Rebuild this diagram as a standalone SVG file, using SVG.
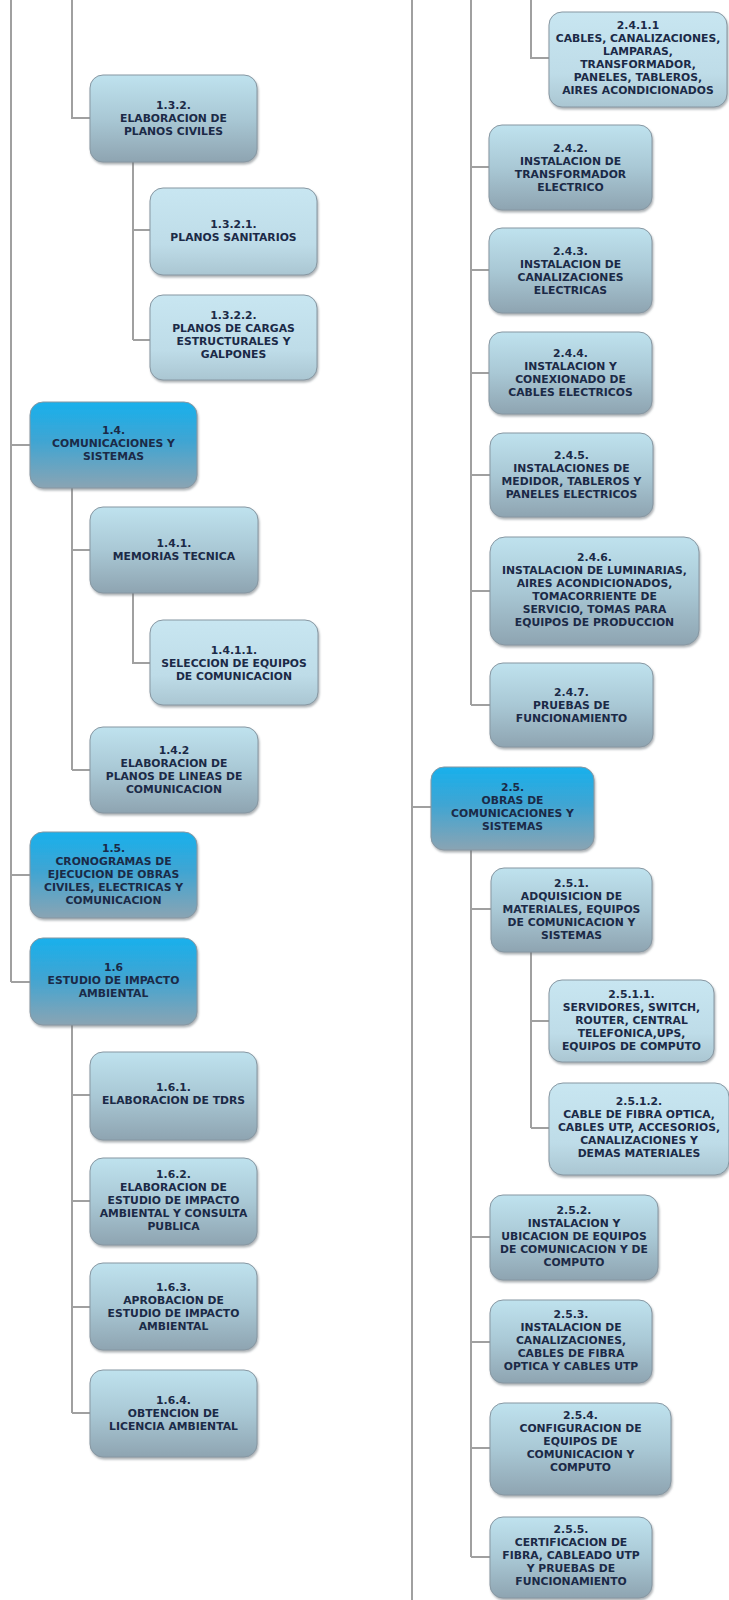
<svg xmlns="http://www.w3.org/2000/svg" width="729" height="1600" viewBox="0 0 729 1600">
<defs>
<linearGradient id="gL1" x1="0" y1="0" x2="0" y2="1">
<stop offset="0" stop-color="#18b0ec"/><stop offset="0.45" stop-color="#3fa5d3"/><stop offset="1" stop-color="#8aa4b3"/>
</linearGradient>
<linearGradient id="gL2" x1="0" y1="0" x2="0" y2="1">
<stop offset="0" stop-color="#bfe2ee"/><stop offset="0.5" stop-color="#a9c8d5"/><stop offset="1" stop-color="#8ea4b1"/>
</linearGradient>
<linearGradient id="gL3" x1="0" y1="0" x2="0" y2="1">
<stop offset="0" stop-color="#c8e6f1"/><stop offset="0.65" stop-color="#bedce8"/><stop offset="1" stop-color="#aac6d2"/>
</linearGradient>
<filter id="sh" x="-10%" y="-10%" width="125%" height="130%">
<feDropShadow dx="1" dy="2" stdDeviation="1.2" flood-color="#6a737a" flood-opacity="0.55"/>
</filter>
</defs>
<style>
.c{stroke:#a0a0a0;stroke-width:2;fill:none}
.n rect{stroke:#8797a2;stroke-width:1;filter:url(#sh)}
.l1 rect{fill:url(#gL1)}
.l2 rect{fill:url(#gL2)}
.l3 rect{fill:url(#gL3)}
.n text{font-family:"DejaVu Sans","Liberation Sans",sans-serif;font-size:10.8px;font-weight:bold;fill:#1b2a47;text-anchor:middle}
</style>
<rect width="729" height="1600" fill="#ffffff"/>
<g id="connectors">
<path class="c" d="M11 0V982M11 445H30M11 875H30M11 982H30"/>
<path class="c" d="M72 0V118H90"/>
<path class="c" d="M133 162V340M133 230H150M133 340H150"/>
<path class="c" d="M72 488V770M72 550H90M72 770H90"/>
<path class="c" d="M133 593V663H150"/>
<path class="c" d="M72 1025V1413M72 1095H90M72 1201H90M72 1307H90M72 1413H90"/>
<path class="c" d="M412 0V1600M412 807H431"/>
<path class="c" d="M531 0V58H549"/>
<path class="c" d="M471 0V705M471 167H489M471 270H489M471 373H489M471 475H490M471 591H490M471 705H490"/>
<path class="c" d="M471 850V1557M471 909H491M471 1237H490M471 1342H490M471 1448H490M471 1557H490"/>
<path class="c" d="M531 952V1128M531 1021H549M531 1128H549"/>
</g>

<g id="n132" class="n l2"><rect x="90" y="75" width="167" height="87" rx="13"/>
<text x="173.5" y="109"><tspan x="173.5">1.3.2.</tspan><tspan x="173.5" dy="13">ELABORACION DE</tspan><tspan x="173.5" dy="13">PLANOS CIVILES</tspan></text></g>

<g id="n1321" class="n l3"><rect x="150" y="188" width="167" height="87" rx="13"/>
<text x="233.5" y="228"><tspan x="233.5">1.3.2.1.</tspan><tspan x="233.5" dy="13">PLANOS SANITARIOS</tspan></text></g>

<g id="n1322" class="n l3"><rect x="150" y="295" width="167" height="85" rx="13"/>
<text x="233.5" y="319"><tspan x="233.5">1.3.2.2.</tspan><tspan x="233.5" dy="13">PLANOS DE CARGAS</tspan><tspan x="233.5" dy="13">ESTRUCTURALES Y</tspan><tspan x="233.5" dy="13">GALPONES</tspan></text></g>

<g id="n14" class="n l1"><rect x="30" y="402" width="167" height="86" rx="13"/>
<text x="113.5" y="434"><tspan x="113.5">1.4.</tspan><tspan x="113.5" dy="13">COMUNICACIONES Y</tspan><tspan x="113.5" dy="13">SISTEMAS</tspan></text></g>

<g id="n141" class="n l2"><rect x="90" y="507" width="168" height="86" rx="13"/>
<text x="174" y="547"><tspan x="174">1.4.1.</tspan><tspan x="174" dy="13">MEMORIAS TECNICA</tspan></text></g>

<g id="n1411" class="n l3"><rect x="150" y="620" width="168" height="85" rx="13"/>
<text x="234" y="654"><tspan x="234">1.4.1.1.</tspan><tspan x="234" dy="13">SELECCION DE EQUIPOS</tspan><tspan x="234" dy="13">DE COMUNICACION</tspan></text></g>

<g id="n142" class="n l2"><rect x="90" y="727" width="168" height="86" rx="13"/>
<text x="174" y="754"><tspan x="174">1.4.2</tspan><tspan x="174" dy="13">ELABORACION DE</tspan><tspan x="174" dy="13">PLANOS DE LINEAS DE</tspan><tspan x="174" dy="13">COMUNICACION</tspan></text></g>

<g id="n15" class="n l1"><rect x="30" y="832" width="167" height="86" rx="13"/>
<text x="113.5" y="852"><tspan x="113.5">1.5.</tspan><tspan x="113.5" dy="13">CRONOGRAMAS DE</tspan><tspan x="113.5" dy="13">EJECUCION DE OBRAS</tspan><tspan x="113.5" dy="13">CIVILES, ELECTRICAS Y</tspan><tspan x="113.5" dy="13">COMUNICACION</tspan></text></g>

<g id="n16" class="n l1"><rect x="30" y="938" width="167" height="87" rx="13"/>
<text x="113.5" y="971"><tspan x="113.5">1.6</tspan><tspan x="113.5" dy="13">ESTUDIO DE IMPACTO</tspan><tspan x="113.5" dy="13">AMBIENTAL</tspan></text></g>

<g id="n161" class="n l2"><rect x="90" y="1052" width="167" height="88" rx="13"/>
<text x="173.5" y="1091"><tspan x="173.5">1.6.1.</tspan><tspan x="173.5" dy="13">ELABORACION DE TDRS</tspan></text></g>

<g id="n162" class="n l2"><rect x="90" y="1158" width="167" height="87" rx="13"/>
<text x="173.5" y="1178"><tspan x="173.5">1.6.2.</tspan><tspan x="173.5" dy="13">ELABORACION DE</tspan><tspan x="173.5" dy="13">ESTUDIO DE IMPACTO</tspan><tspan x="173.5" dy="13">AMBIENTAL Y CONSULTA</tspan><tspan x="173.5" dy="13">PUBLICA</tspan></text></g>

<g id="n163" class="n l2"><rect x="90" y="1263" width="167" height="87" rx="13"/>
<text x="173.5" y="1291"><tspan x="173.5">1.6.3.</tspan><tspan x="173.5" dy="13">APROBACION DE</tspan><tspan x="173.5" dy="13">ESTUDIO DE IMPACTO</tspan><tspan x="173.5" dy="13">AMBIENTAL</tspan></text></g>

<g id="n164" class="n l2"><rect x="90" y="1370" width="167" height="87" rx="13"/>
<text x="173.5" y="1404"><tspan x="173.5">1.6.4.</tspan><tspan x="173.5" dy="13">OBTENCION DE</tspan><tspan x="173.5" dy="13">LICENCIA AMBIENTAL</tspan></text></g>

<g id="n2411" class="n l3"><rect x="549" y="12" width="178" height="95" rx="13"/>
<text x="638" y="29"><tspan x="638">2.4.1.1</tspan><tspan x="638" dy="13">CABLES, CANALIZACIONES,</tspan><tspan x="638" dy="13">LAMPARAS,</tspan><tspan x="638" dy="13">TRANSFORMADOR,</tspan><tspan x="638" dy="13">PANELES, TABLEROS,</tspan><tspan x="638" dy="13">AIRES ACONDICIONADOS</tspan></text></g>

<g id="n242" class="n l2"><rect x="489" y="125" width="163" height="85" rx="13"/>
<text x="570.5" y="152"><tspan x="570.5">2.4.2.</tspan><tspan x="570.5" dy="13">INSTALACION DE</tspan><tspan x="570.5" dy="13">TRANSFORMADOR</tspan><tspan x="570.5" dy="13">ELECTRICO</tspan></text></g>

<g id="n243" class="n l2"><rect x="489" y="228" width="163" height="85" rx="13"/>
<text x="570.5" y="255"><tspan x="570.5">2.4.3.</tspan><tspan x="570.5" dy="13">INSTALACION DE</tspan><tspan x="570.5" dy="13">CANALIZACIONES</tspan><tspan x="570.5" dy="13">ELECTRICAS</tspan></text></g>

<g id="n244" class="n l2"><rect x="489" y="332" width="163" height="82" rx="13"/>
<text x="570.5" y="357"><tspan x="570.5">2.4.4.</tspan><tspan x="570.5" dy="13">INSTALACION Y</tspan><tspan x="570.5" dy="13">CONEXIONADO DE</tspan><tspan x="570.5" dy="13">CABLES ELECTRICOS</tspan></text></g>

<g id="n245" class="n l2"><rect x="490" y="433" width="163" height="84" rx="13"/>
<text x="571.5" y="459"><tspan x="571.5">2.4.5.</tspan><tspan x="571.5" dy="13">INSTALACIONES DE</tspan><tspan x="571.5" dy="13">MEDIDOR, TABLEROS Y</tspan><tspan x="571.5" dy="13">PANELES ELECTRICOS</tspan></text></g>

<g id="n246" class="n l2"><rect x="490" y="537" width="209" height="108" rx="15"/>
<text x="594.5" y="561"><tspan x="594.5">2.4.6.</tspan><tspan x="594.5" dy="13">INSTALACION DE LUMINARIAS,</tspan><tspan x="594.5" dy="13">AIRES ACONDICIONADOS,</tspan><tspan x="594.5" dy="13">TOMACORRIENTE DE</tspan><tspan x="594.5" dy="13">SERVICIO, TOMAS PARA</tspan><tspan x="594.5" dy="13">EQUIPOS DE PRODUCCION</tspan></text></g>

<g id="n247" class="n l2"><rect x="490" y="663" width="163" height="84" rx="13"/>
<text x="571.5" y="696"><tspan x="571.5">2.4.7.</tspan><tspan x="571.5" dy="13">PRUEBAS DE</tspan><tspan x="571.5" dy="13">FUNCIONAMIENTO</tspan></text></g>

<g id="n25" class="n l1"><rect x="431" y="767" width="163" height="83" rx="13"/>
<text x="512.5" y="791"><tspan x="512.5">2.5.</tspan><tspan x="512.5" dy="13">OBRAS DE</tspan><tspan x="512.5" dy="13">COMUNICACIONES Y</tspan><tspan x="512.5" dy="13">SISTEMAS</tspan></text></g>

<g id="n251" class="n l2"><rect x="491" y="868" width="161" height="84" rx="13"/>
<text x="571.5" y="887"><tspan x="571.5">2.5.1.</tspan><tspan x="571.5" dy="13">ADQUISICION DE</tspan><tspan x="571.5" dy="13">MATERIALES, EQUIPOS</tspan><tspan x="571.5" dy="13">DE COMUNICACION Y</tspan><tspan x="571.5" dy="13">SISTEMAS</tspan></text></g>

<g id="n2511" class="n l3"><rect x="549" y="980" width="165" height="82" rx="13"/>
<text x="631.5" y="998"><tspan x="631.5">2.5.1.1.</tspan><tspan x="631.5" dy="13">SERVIDORES, SWITCH,</tspan><tspan x="631.5" dy="13">ROUTER, CENTRAL</tspan><tspan x="631.5" dy="13">TELEFONICA,UPS,</tspan><tspan x="631.5" dy="13">EQUIPOS DE COMPUTO</tspan></text></g>

<g id="n2512" class="n l3"><rect x="549" y="1083" width="180" height="92" rx="14"/>
<text x="639" y="1105"><tspan x="639">2.5.1.2.</tspan><tspan x="639" dy="13">CABLE DE FIBRA OPTICA,</tspan><tspan x="639" dy="13">CABLES UTP, ACCESORIOS,</tspan><tspan x="639" dy="13">CANALIZACIONES Y</tspan><tspan x="639" dy="13">DEMAS MATERIALES</tspan></text></g>

<g id="n252" class="n l2"><rect x="490" y="1195" width="168" height="85" rx="13"/>
<text x="574" y="1214"><tspan x="574">2.5.2.</tspan><tspan x="574" dy="13">INSTALACION Y</tspan><tspan x="574" dy="13">UBICACION DE EQUIPOS</tspan><tspan x="574" dy="13">DE COMUNICACION Y DE</tspan><tspan x="574" dy="13">COMPUTO</tspan></text></g>

<g id="n253" class="n l2"><rect x="490" y="1300" width="162" height="83" rx="13"/>
<text x="571" y="1318"><tspan x="571">2.5.3.</tspan><tspan x="571" dy="13">INSTALACION DE</tspan><tspan x="571" dy="13">CANALIZACIONES,</tspan><tspan x="571" dy="13">CABLES DE FIBRA</tspan><tspan x="571" dy="13">OPTICA Y CABLES UTP</tspan></text></g>

<g id="n254" class="n l2"><rect x="490" y="1403" width="181" height="92" rx="14"/>
<text x="580.5" y="1419"><tspan x="580.5">2.5.4.</tspan><tspan x="580.5" dy="13">CONFIGURACION DE</tspan><tspan x="580.5" dy="13">EQUIPOS DE</tspan><tspan x="580.5" dy="13">COMUNICACION Y</tspan><tspan x="580.5" dy="13">COMPUTO</tspan></text></g>

<g id="n255" class="n l2"><rect x="490" y="1517" width="162" height="81" rx="13"/>
<text x="571" y="1533"><tspan x="571">2.5.5.</tspan><tspan x="571" dy="13">CERTIFICACION DE</tspan><tspan x="571" dy="13">FIBRA, CABLEADO UTP</tspan><tspan x="571" dy="13">Y PRUEBAS DE</tspan><tspan x="571" dy="13">FUNCIONAMIENTO</tspan></text></g>
</svg>
